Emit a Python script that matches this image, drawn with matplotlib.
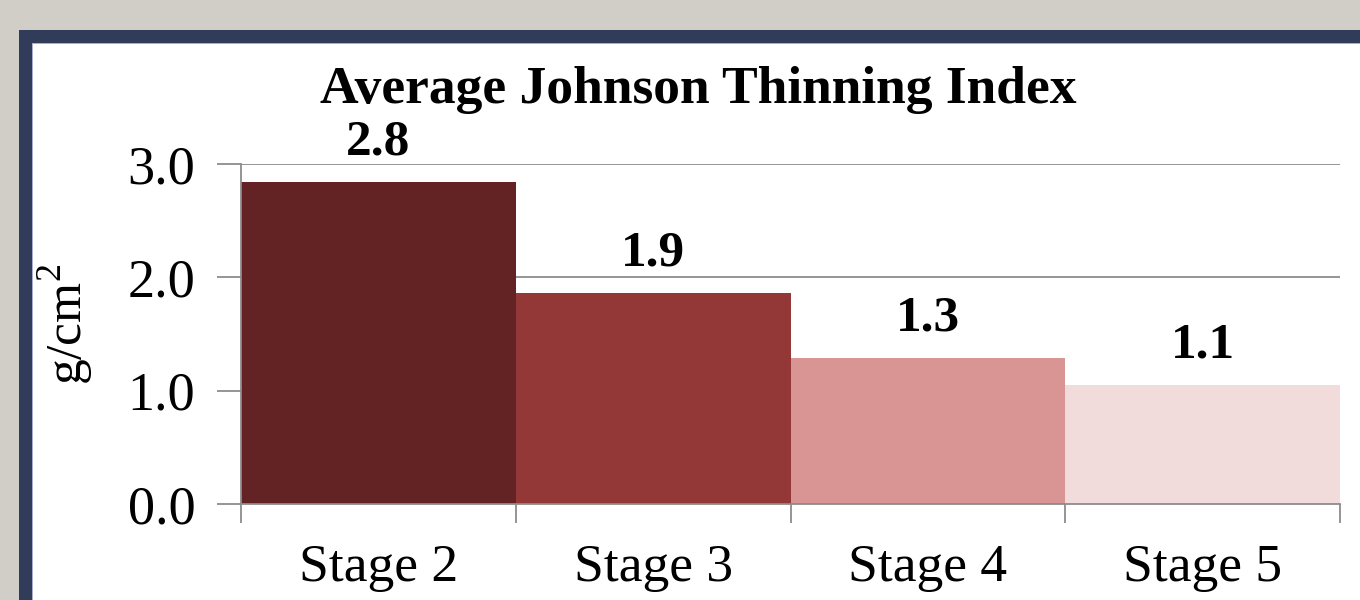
import matplotlib
matplotlib.use("Agg")
import matplotlib.pyplot as plt
from matplotlib.patches import Rectangle
import numpy as np

stages = ["Stage 2", "Stage 3", "Stage 4", "Stage 5"]
values = [2.84, 1.86, 1.29, 1.05]
labels = ["2.8", "1.9", "1.3", "1.1"]
colors = ["#632324", "#943737", "#d99594", "#f2dcdb"]
yticks = [0.0, 1.0, 2.0, 3.0]

plt.rcParams["font.family"] = ["Liberation Serif", "DejaVu Serif"]
plt.rcParams["mathtext.fontset"] = "custom"
plt.rcParams["mathtext.rm"] = "Liberation Serif"

W, H = 1360, 600
fig = plt.figure(figsize=(13.6, 6.0), dpi=100)
fig.patch.set_facecolor("white")

# frame: grey background, navy border, thin lavender line
def px_rect(x0, y0, x1, y1, color):
    fig.patches.append(Rectangle((x0 / W, 1 - y1 / H), (x1 - x0) / W, (y1 - y0) / H,
                                 transform=fig.transFigure, facecolor=color,
                                 edgecolor="none", zorder=-10))

px_rect(0, 0, W, H, "#d1cec8")
px_rect(19, 30, W, H, "#313c5a")
px_rect(32, 43, W, H, "#a9aed0")
px_rect(33, 44, W, H, "white")

ax = fig.add_axes([241 / W, 1 - 504 / H, (1340 - 241) / W, (504 - 164) / H])
ax.set_facecolor("none")

x = np.arange(len(stages))
ax.bar(x, values, width=1.0, color=colors, align="edge", zorder=2)
ax.set_xlim(0, len(stages))
ax.set_ylim(0, 3.0)

for xi, v, lab in zip(x, values, labels):
    ax.annotate(lab, (xi + 0.5, v), xytext=(0, 12), textcoords="offset points",
                ha="center", va="bottom", fontsize=37, fontweight="bold")

ax.set_yticks(yticks)
ax.set_yticklabels(["%.1f" % t for t in yticks], fontsize=39)
ax.yaxis.grid(True, color="#8c8c8c", linewidth=1.3, zorder=0)
ax.set_axisbelow(True)
ax.set_xticks(np.arange(len(stages) + 1))
ax.set_xticklabels([])
ax.set_xticks(x + 0.5, minor=True)
ax.set_xticklabels(stages, minor=True, fontsize=38.5)
ax.tick_params(axis="x", which="major", direction="out", length=14, width=1.3,
               color="#8c8c8c")
ax.tick_params(axis="x", which="minor", length=0, pad=29)
ax.tick_params(axis="y", direction="out", length=17, width=1.3, color="#8c8c8c", pad=16)

for s in ["top", "right"]:
    ax.spines[s].set_visible(False)
for s in ["left", "bottom"]:
    ax.spines[s].set_color("#8c8c8c")
    ax.spines[s].set_linewidth(1.3)

fig.text(66 / W, 1 - 324 / H, "g/cm$^2$", rotation=90, ha="center", va="center",
         fontsize=37)
fig.text(698 / W, 1 - 90 / H, "Average Johnson Thinning Index", ha="center",
         va="center", fontsize=38.5, fontweight="bold")

fig.savefig("out.png", dpi=100)
